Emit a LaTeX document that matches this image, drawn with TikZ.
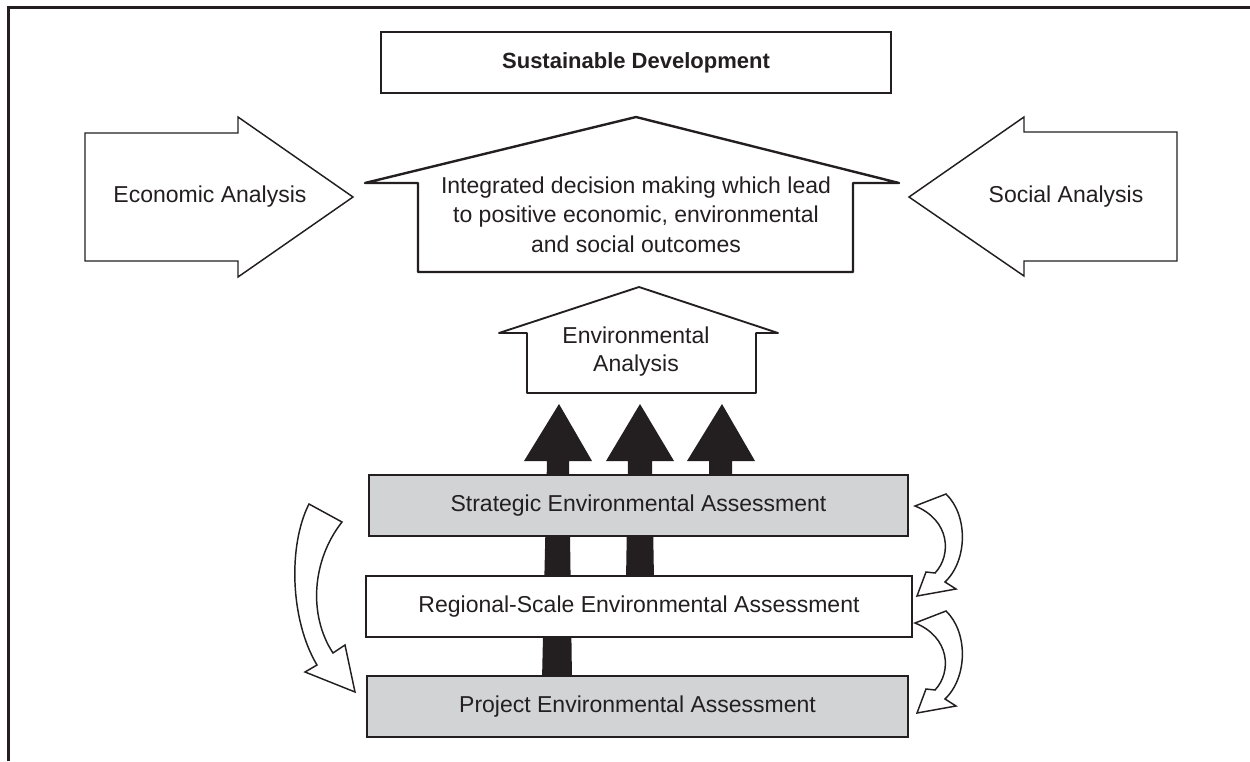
\documentclass[tikz,border=0pt]{standalone}
\usepackage{fontspec}
\setmainfont{Liberation Sans}
\newdimen\pxu \pxu=0.75pt
\definecolor{ink}{RGB}{35,31,32}
\definecolor{boxgray}{RGB}{209,211,212}
\tikzset{
  lbl/.style={font=\fontsize{17.25}{22}\selectfont, text=ink, inner sep=0pt, align=center},
  ttl/.style={font=\fontsize{16.5}{20}\selectfont\bfseries, text=ink, inner sep=0pt},
  boxnode/.style={draw=ink, line width=1.5pt, inner sep=0pt, minimum height=61\pxu,
     font=\fontsize{17.25}{22}\selectfont, text=ink},
  blockarrow/.style={draw=ink, line width=1.1pt, fill=white, line join=miter},
  housestyle/.style={draw=ink, fill=white, line join=round},
  blackarrow/.style={fill=ink, draw=none},
  curvarrow/.style={draw=ink, line width=1.1pt, fill=white, line join=miter}
}
\begin{document}
\begin{tikzpicture}[x=0.75pt,y=-0.75pt]
\useasboundingbox (0,0) rectangle (1250,761);
\fill[white] (0,0) rectangle (1250,761);

% frame (top and left edges visible)
\draw[ink, line width=2.25pt] (8,761) -- (8,7) -- (1250,7);

% title
\node[boxnode, minimum width=510\pxu, font=\fontsize{16.5}{20}\selectfont\bfseries] (title) at (636,62.5) {Sustainable Development};

% economic analysis arrow
\draw[blockarrow] (85,133) -- (238,133) -- (238,117) -- (353,197) -- (238,277) -- (238,261) -- (85,261) -- cycle;
\node[lbl] (econ) at (210,197) {Economic Analysis};

% social analysis arrow
\draw[blockarrow] (1177,132) -- (1024,132) -- (1024,117) -- (909,197) -- (1024,276) -- (1024,261) -- (1177,261) -- cycle;
\node[lbl] (soc) at (1066,197) {Social Analysis};

% central house
\draw[housestyle, line width=1.8pt] (365,183) -- (636,117) -- (899,183) -- (853,183) -- (853,272) -- (418,272) -- (418,183) -- cycle;
\node[lbl, font=\fontsize{17.25}{22.1}\selectfont] (integ) at (636,214.5) {Integrated decision making which lead\\to positive economic, environmental\\and social outcomes};

% environmental house
\draw[housestyle, line width=1.4pt] (499,333) -- (639,287) -- (778,333) -- (756,333) -- (756,393) -- (527,393) -- (527,333) -- cycle;
\node[lbl, font=\fontsize{17.25}{21}\selectfont] (env) at (636,352) {Environmental\\Analysis};

% black arrows (behind boxes)
\fill[blackarrow] (559,404) -- (592,461) -- (569,461) -- (572,680) -- (542,680) -- (547,461) -- (524,461) -- cycle;
\fill[blackarrow] (640,404) -- (674,461) -- (652,461) -- (654,580) -- (626,580) -- (628,461) -- (606,461) -- cycle;
\fill[blackarrow] (722,404) -- (755,461) -- (732,461) -- (732,479) -- (709,479) -- (709,461) -- (687,461) -- cycle;

% assessment boxes
\node[boxnode, fill=boxgray, minimum width=539\pxu] (sea) at (638.5,505.5) {Strategic Environmental Assessment};
\node[boxnode, fill=white, minimum width=546\pxu] (rea) at (639,606.5) {Regional-Scale Environmental Assessment};
\node[boxnode, fill=boxgray, minimum width=541\pxu] (pea) at (637.5,706.5) {Project Environmental Assessment};

% left curved arrow
\draw[curvarrow] (309,504) -- (342,522) .. controls (312,560) and (308,615) .. (333,653)
  -- (345,645) -- (355,692) -- (305,672) -- (317,665)
  .. controls (290,620) and (288,545) .. (309,504) -- cycle;

% right curved arrows
\draw[curvarrow] (915,506) -- (946,494) .. controls (968,515) and (968,560) .. (945,582)
  -- (956,589) -- (917,596) -- (926,572) -- (935,573)
  .. controls (952,555) and (950,520) .. (915,506) -- cycle;
\begin{scope}[shift={(0,117)}]
\draw[curvarrow] (915,506) -- (946,494) .. controls (968,515) and (968,560) .. (945,582)
  -- (956,589) -- (917,596) -- (926,572) -- (935,573)
  .. controls (952,555) and (950,520) .. (915,506) -- cycle;
\end{scope}
\end{tikzpicture}
\end{document}
